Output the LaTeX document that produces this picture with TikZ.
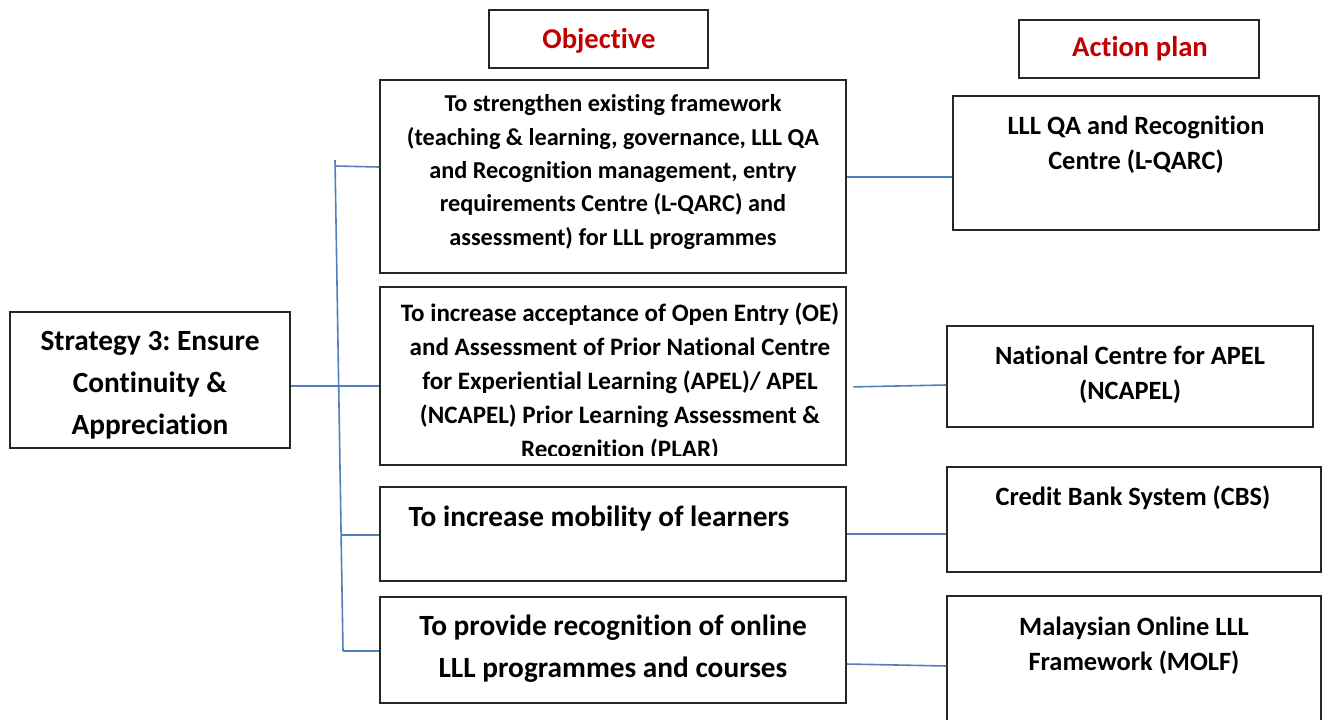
\documentclass[tikz,border=0pt]{standalone}
\usepackage{fontspec}
\setmainfont{Carlito}[RawFeature={-liga;-clig;-calt;-dlig}]
\frenchspacing
\usetikzlibrary{fit}
\definecolor{linkblue}{HTML}{4F81BD}
\definecolor{headred}{HTML}{C00000}
\tikzset{every picture/.style={x=0.75pt, y=-0.75pt}}
\tikzset{box/.style={draw=black!85, line width=0.9pt, rectangle, inner sep=0pt}}
\tikzset{txt/.style={align=center, inner sep=0pt, font=\bfseries\fontsize{19}{25.5}\selectfont}}
\tikzset{bigtxt/.style={txt, font=\bfseries\fontsize{22}{31.5}\selectfont}}
\tikzset{acttxt/.style={txt, font=\bfseries\fontsize{19.8}{26.5}\selectfont}}
\tikzset{head/.style={txt, anchor=base, text=headred, font=\bfseries\fontsize{21.5}{25}\selectfont}}
\tikzset{link/.style={draw=linkblue, line width=1.2pt}}

\begin{document}
\begin{tikzpicture}
\clip (0,0) rectangle (1322,719);
\fill[white] (0,0) rectangle (1322,719);

% column headings
\node[box, fit={(489,10) (708,68)}] (hobj) {};
\node[head] (hobjt) at (599,48) {Objective};
\node[box, fit={(1019,20) (1259,78)}] (hact) {};
\node[head] (hactt) at (1140,56) {Action plan};

% strategy
\node[box, fit={(10,312) (290,448)}] (strat) {};
\node[bigtxt] (stratt) at (150,385) {Strategy 3: Ensure\\Continuity \&\\Appreciation};

% objectives
\node[box, fit={(380,80) (846,273)}] (obj1) {};
\node[txt, font=\bfseries\fontsize{18.2}{25}\selectfont] (obj1t) at (613,172) {To strengthen existing framework\\(teaching \& learning, governance, LLL QA\\and Recognition management, entry\\requirements Centre (L-QARC) and\\assessment) for LLL programmes};
\node[box, fit={(380,287) (846,465)}] (obj2) {};
\begin{scope}
\clip (380,287) rectangle (846,455);
\node[txt, font=\bfseries\fontsize{18.8}{25.5}\selectfont] (obj2t) at (620,382) {To increase acceptance of Open Entry (OE)\\and Assessment of Prior National Centre\\for Experiential Learning (APEL)/ APEL\\(NCAPEL) Prior Learning Assessment \&\\Recognition (PLAR)};
\end{scope}
\node[box, fit={(380,487) (846,581)}] (obj3) {};
\node[bigtxt] (obj3t) at (599,519) {To increase mobility of learners};
\node[box, fit={(380,597) (846,703)}] (obj4) {};
\node[bigtxt] (obj4t) at (613,649) {To provide recognition of online\\LLL programmes and courses};

% action plans
\node[box, fit={(953,96) (1319,230)}] (act1) {};
\node[acttxt] (act1t) at (1136,145) {LLL QA and Recognition\\Centre (L-QARC)};
\node[box, fit={(947,326) (1313,427)}] (act2) {};
\node[acttxt] (act2t) at (1130,375) {National Centre for APEL\\(NCAPEL)};
\node[box, fit={(947,467) (1321,572)}] (act3) {};
\node[acttxt] (act3t) at (1133,498) {Credit Bank System (CBS)};
\node[box, fit={(947,596) (1321,730)}] (act4) {};
\node[acttxt] (act4t) at (1134,646) {Malaysian Online LLL\\Framework (MOLF)};

% bracket
\coordinate (btop) at (335,160);
\coordinate (bbot) at (343,651);
\draw[link] (btop) -- (bbot);
\draw[link] (335,166) -- (obj1.west |- 0,167);
\draw[link] (strat.east |- 0,386) -- (obj2.west |- 0,386);
\draw[link] (341,535) -- (obj3.west |- 0,535);
\draw[link] (bbot) -- (obj4.west |- bbot);

% objective to action plan
\draw[link] (obj1.east |- 0,177) -- (act1.west |- 0,177);
\draw[link, shorten <=5pt] (obj2.east |- 0,387) -- (act2.west |- 0,385);
\draw[link] (obj3.east |- 0,534) -- (act3.west |- 0,534);
\draw[link] (obj4.east |- 0,664) -- (act4.west |- 0,666);
\end{tikzpicture}
\end{document}
